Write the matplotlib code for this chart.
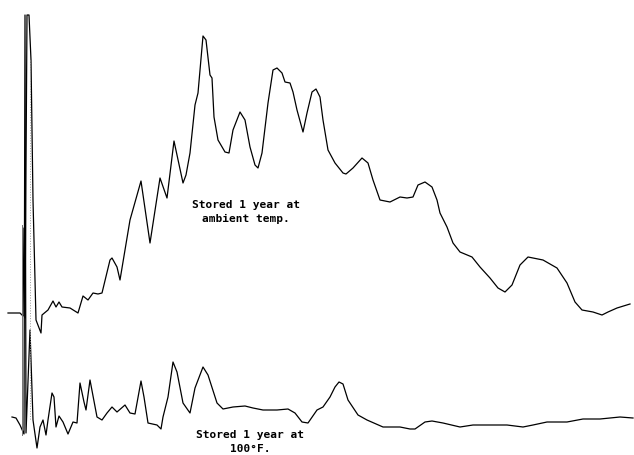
import numpy as np
import matplotlib.pyplot as plt

# trace (x = time, y = pen position, down is positive)
amb_x = [8, 20, 22, 23, 24, 25, 27, 29, 31, 33, 36, 41, 42, 48, 53, 56, 59, 62, 70, 78, 83, 88,
         93, 98, 102, 110, 112, 117, 120, 130, 141, 150, 160, 167, 174, 183, 186, 190, 195, 198,
         203, 206, 210, 212, 214, 218, 225, 229, 233, 240, 245, 250, 255, 258, 262, 268, 273, 277,
         282, 285, 290, 293, 297, 303, 307, 312, 316, 320, 323, 328, 335, 343, 346, 353, 362, 368,
         373, 380, 390, 400, 407, 413, 418, 425, 432, 437, 440, 447, 453, 460, 472, 480, 490, 498,
         505, 512, 520, 528, 543, 557, 567, 575, 582, 593, 602, 608, 617, 630]
amb_y = [313, 313, 315, 316, 228, 318, 15, 15, 60, 200, 320, 333, 315, 310, 301, 307, 302, 307,
         308, 313, 296, 300, 293, 294, 293, 260, 258, 267, 280, 220, 181, 243, 178, 198, 141, 183,
         175, 153, 105, 93, 36, 40, 75, 78, 117, 140, 152, 153, 130, 112, 120, 147, 165, 168, 153,
         103, 70, 68, 73, 82, 83, 92, 110, 132, 113, 92, 89, 97, 120, 150, 163, 173, 174, 168, 158,
         163, 180, 200, 202, 197, 198, 197, 185, 182, 187, 200, 213, 227, 243, 252, 257, 267, 278,
         288, 292, 285, 265, 257, 260, 268, 283, 302, 310, 312, 315, 312, 308, 304]

hot_x = [12, 16, 20, 24, 25, 26, 30, 33, 37, 40, 43, 46, 48, 52, 54, 56, 59, 63, 68, 73, 77, 80,
         84, 86, 90, 97, 102, 107, 112, 117, 125, 130, 135, 141, 144, 148, 157, 161, 163, 168,
         173, 177, 183, 190, 195, 203, 208, 217, 223, 233, 245, 253, 263, 277, 288, 295, 302, 308,
         317, 323, 330, 335, 339, 343, 348, 358, 367, 383, 400, 410, 415, 425, 432, 443, 460, 473,
         493, 507, 523, 533, 547, 567, 583, 600, 620, 633]
hot_y = [417, 418, 425, 434, 15, 433, 330, 420, 448, 427, 420, 435, 420, 393, 397, 427, 416, 422,
         434, 422, 423, 383, 402, 410, 380, 417, 420, 413, 407, 412, 405, 413, 414, 381, 397, 423,
         425, 429, 417, 397, 362, 372, 403, 413, 388, 367, 375, 403, 409, 407, 406, 408, 410, 410,
         409, 413, 422, 423, 410, 407, 397, 387, 382, 384, 400, 415, 420, 427, 427, 429, 429, 422,
         421, 423, 427, 425, 425, 425, 427, 425, 422, 422, 419, 419, 417, 418]

label_amb = "Stored 1 year at\nambient temp."
label_hot = "Stored 1 year at\n100°F."

fig = plt.figure(figsize=(6.34, 4.55), dpi=100)
ax = fig.add_axes([0, 0, 1, 1])

ax.plot(amb_x, amb_y, color='black', lw=0.9)
ax.plot(hot_x, hot_y, color='black', lw=0.9)
# faint solvent front pen strokes
ax.plot([22, 22], [225, 435], color='0.45', lw=0.7)
ax.plot([30, 30], [60, 420], color='0.6', lw=0.7, ls=':')

ax.text(246, 212, label_amb, ha='center', va='center', fontsize=8,
        family='DejaVu Sans Mono', fontweight='bold', linespacing=1.5)
ax.text(250, 442, label_hot, ha='center', va='center', fontsize=8,
        family='DejaVu Sans Mono', fontweight='bold', linespacing=1.5)

ax.set_xlim(0, 634)
ax.set_ylim(455, 0)
ax.axis('off')

plt.savefig('out.png', dpi=100, facecolor='white')
